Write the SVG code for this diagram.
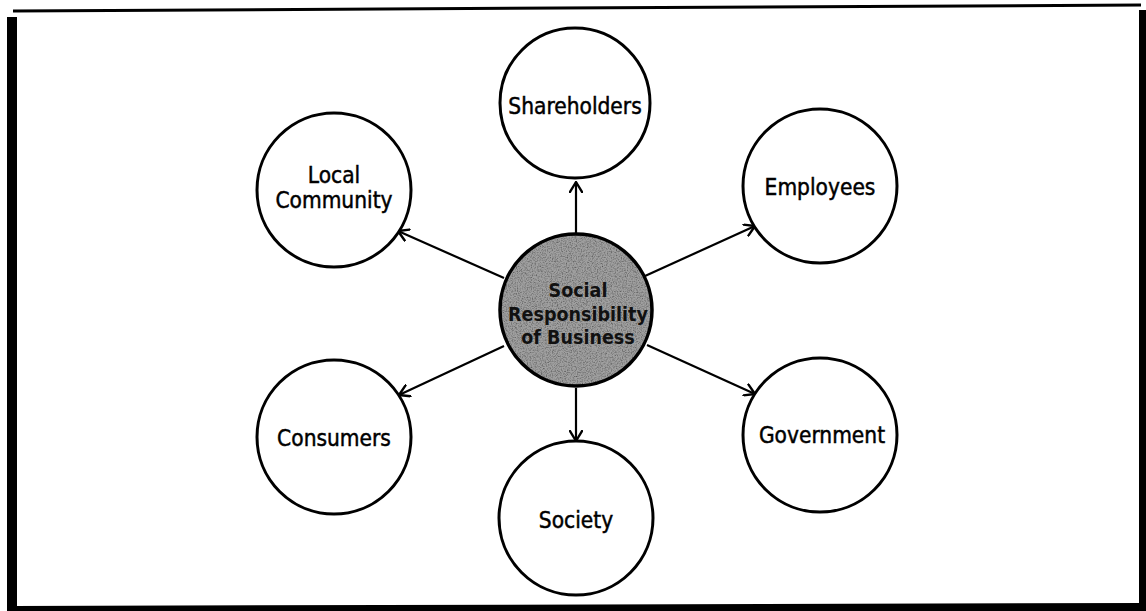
<svg xmlns="http://www.w3.org/2000/svg" width="1146" height="611" viewBox="0 0 1146 611">
  <style>
    .node { fill: #ffffff; stroke: #000000; stroke-width: 3; }
    .label { font-family: "DejaVu Sans Condensed", "DejaVu Sans", sans-serif; font-size: 22.5px; fill: #000000; stroke: #000000; stroke-width: 0.45; text-anchor: middle; dominant-baseline: central; }
    .hub-label { font-family: "DejaVu Sans Condensed", "DejaVu Sans", sans-serif; font-size: 19.5px; font-weight: bold; fill: #111111; text-anchor: middle; dominant-baseline: central; }
    .link { stroke: #000000; stroke-width: 2.2; fill: none; marker-end: url(#open-arrow); }
  </style>
  <defs>
    <marker id="open-arrow" viewBox="0 0 12 14" refX="11" refY="7" markerWidth="12" markerHeight="14" markerUnits="userSpaceOnUse" orient="auto">
      <path d="M1,1 L11,7 L1,13" fill="none" stroke="#000000" stroke-width="2.4" stroke-linecap="round" stroke-linejoin="round"/>
    </marker>
    <!-- grainy halftone fill for the central hub -->
    <filter id="grain" x="0" y="0" width="100%" height="100%">
      <feTurbulence type="fractalNoise" baseFrequency="0.8" numOctaves="2" seed="7" result="noise"/>
      <feColorMatrix in="noise" type="matrix" values="0 0 0 0 0  0 0 0 0 0  0 0 0 0 0  0 0 0 1.5 -0.6" result="specks"/>
      <feComposite in="specks" in2="SourceGraphic" operator="in" result="clipped"/>
      <feMerge>
        <feMergeNode in="SourceGraphic"/>
        <feMergeNode in="clipped"/>
      </feMerge>
    </filter>
  </defs>

  <rect x="0" y="0" width="1146" height="611" fill="#ffffff"/>

  <!-- outer frame -->
  <g id="frame" fill="#000000">
    <polygon points="13,9.5 1141,3.5 1141,6.5 13,12.5"/>
    <rect x="7" y="17" width="10" height="594"/>
    <rect x="1139" y="10" width="7" height="601"/>
    <polygon points="13,606 1146,603 1146,611 13,611"/>
  </g>

  <!-- connectors -->
  <g id="connectors">
    <line class="link" x1="576" y1="233" x2="576" y2="182"/>
    <line class="link" x1="645" y1="276" x2="755" y2="226"/>
    <line class="link" x1="647" y1="345" x2="755" y2="394"/>
    <line class="link" x1="576" y1="388" x2="576" y2="441"/>
    <line class="link" x1="504" y1="346" x2="399" y2="395"/>
    <line class="link" x1="504" y1="278" x2="398" y2="231"/>
  </g>

  <!-- central hub -->
  <g id="hub">
    <circle cx="576" cy="310" r="76" fill="#a0a0a0" filter="url(#grain)"/>
    <circle cx="576" cy="310" r="76" fill="none" stroke="#000000" stroke-width="3.5"/>
    <text class="hub-label" x="578" y="290">Social</text>
    <text class="hub-label" x="578" y="314">Responsibility</text>
    <text class="hub-label" x="578" y="337">of Business</text>
  </g>

  <g id="shareholders">
    <circle class="node" cx="575" cy="103" r="75"/>
    <text class="label" x="575" y="106">Shareholders</text>
  </g>

  <g id="employees">
    <circle class="node" cx="820" cy="186" r="77"/>
    <text class="label" x="820" y="187">Employees</text>
  </g>

  <g id="government">
    <circle class="node" cx="820" cy="435" r="77"/>
    <text class="label" x="822" y="435">Government</text>
  </g>

  <g id="society">
    <circle class="node" cx="576" cy="518" r="77"/>
    <text class="label" x="576" y="520">Society</text>
  </g>

  <g id="consumers">
    <circle class="node" cx="334" cy="437" r="77"/>
    <text class="label" x="334" y="438">Consumers</text>
  </g>

  <g id="local-community">
    <circle class="node" cx="334" cy="190" r="77"/>
    <text class="label" x="334" y="175">Local</text>
    <text class="label" x="334" y="200">Community</text>
  </g>
</svg>
